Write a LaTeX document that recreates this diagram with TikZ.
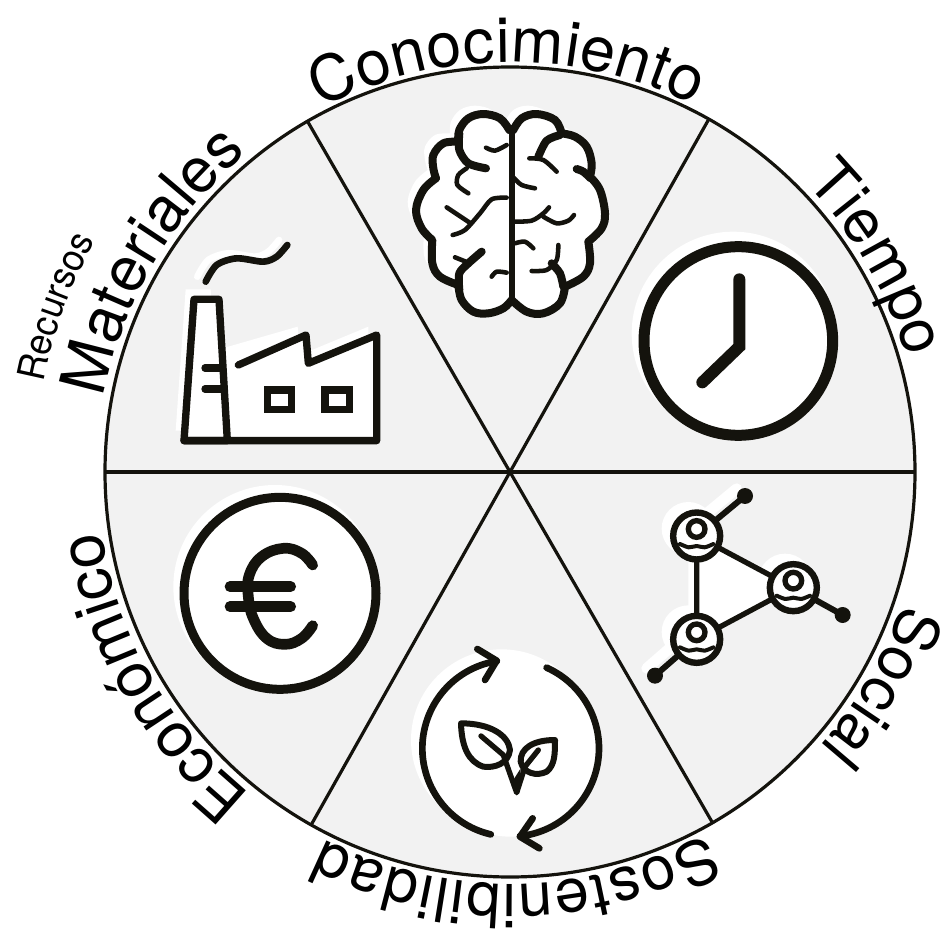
\documentclass[tikz,border=0pt]{standalone}
\usepackage{fontspec}
\setmainfont{TeX Gyre Heros}
\newfontfamily\narrowerfont[FakeStretch=0.95]{TeX Gyre Heros}
\usetikzlibrary{decorations.text}
\definecolor{ink}{HTML}{14130D}
\definecolor{panel}{HTML}{F2F2F2}
\tikzset{
  rimline/.style={draw=ink,line width=2.4pt,line cap=butt},
  inkline/.style={draw=ink,line cap=round,line join=round},
  thin ink/.style={inkline,line width=3.4pt},
  thick ink/.style={inkline,line width=6pt},
  back/.style={fill=white,draw=none},
}
% radius, start angle, end angle, font switch and size, alignment, text
\newcommand\arclabel[6]{%
  \path[decorate,decoration={text along path,text align={#5},
    text={|#4\selectfont|#6}}]
    plot[domain=0:1,samples=120] ({510+#1*cos(#2+(#3-#2)*\x)},{472-#1*sin(#2+(#3-#2)*\x)});}
\def\brainshape{plot[smooth,tension=.6] coordinates {(328,90)(300,55)(250,42)(205,55)(178,90)(175,125)}
  -- plot[smooth,tension=.6] coordinates {(175,125)(130,130)(100,165)(100,205)(108,235)}
  -- plot[smooth,tension=.6] coordinates {(108,235)(70,270)(48,330)(65,385)(97,420)}
  -- plot[smooth,tension=.6] coordinates {(97,420)(97,490)(120,530)(175,555)}
  -- plot[smooth,tension=.6] coordinates {(175,555)(185,600)(220,635)(265,640)(310,625)(335,600)}
  -- plot[smooth,tension=.6] coordinates {(335,600)(380,635)(430,640)(480,610)(495,560)}
  -- plot[smooth,tension=.6] coordinates {(495,560)(550,530)(570,490)(565,425)}
  -- plot[smooth,tension=.6] coordinates {(565,425)(605,385)(615,340)(600,270)(570,230)}
  -- plot[smooth,tension=.6] coordinates {(570,230)(575,190)(560,140)(525,110)(485,100)}
  -- plot[smooth,tension=.6] coordinates {(485,100)(465,60)(410,42)(365,55)(340,90)}
  -- cycle}
\def\chimney{(42,632)--(72,208)--(147,208)--(172,632)--cycle}
\def\plant{(172,632)--(165,385)--(408,315)--(415,400)--(620,315)--(620,632)--cycle}
\begin{document}
\begin{tikzpicture}[x=0.75pt,y=-0.75pt]
\useasboundingbox (0,0) rectangle (947,934);
% wheel
\fill[panel] (510,472) circle[radius=405*0.75pt];
\foreach \a in {0,60.6,120,180,240.6,300}
  \draw[rimline] (510,472) -- ({510+405*cos(\a)},{472-405*sin(\a)});
\draw[rimline] (510,472) circle[radius=405*0.75pt];
% labels
\arclabel{410}{117.5}{63.3}{\fontsize{47}{47}}{fit to path}{Conocimiento}
\arclabel{413}{44.4}{0}{\fontsize{46}{46}}{left}{Tiempo}
\arclabel{414}{-18.5}{-60}{\fontsize{46}{46}}{left}{Social}
\arclabel{412}{-61.5}{-117}{\fontsize{46}{46}}{fit to path}{Sostenibilidad}
\arclabel{413}{-128.8}{-179}{\fontsize{47}{47}}{left}{Económico}
\arclabel{413}{169.6}{110}{\fontsize{47}{47}}{left}{Materiales}
\arclabel{475}{169.2}{130}{\narrowerfont\fontsize{28.5}{28.5}}{left}{Recursos}
% brain
\begin{scope}[shift={(400,100)},x=0.25pt,y=-0.25pt]
  \fill[back,shift={(-25,-25)}] \brainshape;
  \fill[back] \brainshape;
  \draw[inkline,line width=6pt] \brainshape;
  \draw[inkline,line width=4.5pt,line cap=butt] (335,85)--(335,610);
  \draw[thick ink] plot[smooth] coordinates {(178,100)(178,150)(205,190)(258,205)};
  \draw[thick ink] plot[smooth] coordinates {(178,570)(178,520)(205,490)(245,455)};
  \draw[thick ink] plot[smooth] coordinates {(480,105)(440,122)(415,170)};
  \draw[thick ink] plot[smooth] coordinates {(530,207)(550,215)(572,235)};
  \draw[thick ink] plot[smooth] coordinates {(455,490)(480,520)(490,560)};
  \draw[thin ink] plot[smooth] coordinates {(258,143)(285,152)(320,135)};
  \draw[thin ink] plot[smooth] coordinates {(200,205)(175,225)(172,255)(205,280)};
  \draw[thin ink] (140,322)--(212,370);
  \draw[thin ink] plot[smooth] coordinates {(158,405)(195,390)(240,340)(275,298)(320,293)};
  \draw[thin ink] (165,472)--(205,488);
  \draw[thin ink] plot[smooth] coordinates {(275,530)(290,515)(320,518)};
  \draw[thin ink] plot[smooth] coordinates {(340,232)(365,255)(405,265)};
  \draw[thin ink] plot[smooth] coordinates {(388,175)(430,180)(470,215)};
  \draw[thin ink] plot[smooth] coordinates {(340,365)(395,362)(430,340)(447,322)};
  \draw[thin ink] plot[smooth] coordinates {(430,350)(470,370)(505,362)(522,345)};
  \draw[thin ink] plot[smooth] coordinates {(345,430)(375,425)(400,445)};
  \draw[thin ink] plot[smooth] coordinates {(475,435)(470,480)(440,510)(395,513)};
\end{scope}
% clock
\begin{scope}[shift={(630,230)},x=0.25pt,y=-0.25pt]
  \fill[back] (310,310) circle[radius=305*0.25pt];
  \fill[back] (325,333) circle[radius=283*0.25pt];
  \draw[inkline,line width=8.25pt] (325,333) circle[radius=283*0.25pt];
  \draw[inkline,line width=9pt,line join=miter] (328,148)--(328,350)--(217,457);
\end{scope}
% social network
\begin{scope}[shift={(630,470)},x=0.25pt,y=-0.25pt]
  \fill[back,shift={(-25,-22)}] (200,198) circle[radius=80*0.25pt];
  \fill[back,shift={(-25,-22)}] (200,508) circle[radius=80*0.25pt];
  \fill[back,shift={(-25,-22)}] (490,353) circle[radius=80*0.25pt];
  \fill[back,shift={(-25,-22)}] (200,198)--(490,353)--(200,508)--cycle;
  \fill[back] (200,198)--(490,353)--(200,508)--cycle;
  \draw[inkline,line width=4pt] (200,198)--(490,353)--(200,508)--cycle;
  \draw[line width=8pt,white,line cap=round,shift={(-25,-22)}] (200,198)--(345,78);
  \draw[line width=8pt,white,line cap=round,shift={(-25,-22)}] (200,508)--(75,617);
  \draw[inkline,line width=4.5pt] (200,198)--(345,78);
  \draw[inkline,line width=4.5pt] (490,353)--(638,435);
  \draw[inkline,line width=4.5pt] (200,508)--(75,617);
  \fill[ink] (345,78) circle[radius=24*0.25pt] (638,435) circle[radius=24*0.25pt] (75,617) circle[radius=24*0.25pt];
  \foreach \cx/\cy in {200/198,490/353,200/508}{
    \filldraw[fill=white,draw=ink,line width=4.8pt] (\cx,\cy) circle[radius=70.5*0.25pt];
    \draw[draw=ink,line width=4pt,fill=white] (\cx,\cy-21) circle[radius=25*0.25pt];
    \draw[inkline,line width=3pt] plot[smooth] coordinates {(\cx-50,\cy+24)(\cx-24,\cy+34)(\cx,\cy+30)(\cx+24,\cy+34)(\cx+50,\cy+24)};
  }
\end{scope}
% sustainability
\begin{scope}[shift={(400,640)},x=0.25pt,y=-0.25pt]
  \fill[back] (305,300) circle[radius=272*0.25pt];
  \fill[back] (332,325) circle[radius=265*0.25pt];
  \draw[inkline,line width=5pt] plot[domain=103:261,samples=60] ({332+265*cos(\x)},{325+265*sin(\x)});
  \draw[inkline,line width=5pt] plot[domain=-66:84,samples=60] ({332+265*cos(\x)},{325+265*sin(\x)});
  \draw[inkline,line width=5pt] (232,27)--(290,62)--(255,120);
  \draw[inkline,line width=5pt] (398,535)--(360,590)--(418,625);
  \draw[inkline,line width=4.5pt] (183,250) .. controls (270,250) and (325,285) .. (330,330)
     .. controls (325,370) and (285,385) .. (250,380) .. controls (205,365) and (185,320) .. cycle;
  \draw[inkline,line width=4.5pt] (465,300) .. controls (400,300) and (360,325) .. (362,365)
     .. controls (370,400) and (410,410) .. (440,395) .. controls (465,375) and (465,340) .. cycle;
  \draw[inkline,line width=4pt] (243,288)--(310,345)--(350,458)--(375,380)--(415,330);
  \fill[ink] (318,360)--(340,420)--(362,385)--(358,458)--(344,458)--cycle;
\end{scope}
% euro
\begin{scope}[shift={(170,485)},x=0.25pt,y=-0.25pt]
  \fill[back] (315,305) circle[radius=305*0.25pt];
  \fill[back] (330,325) circle[radius=288*0.25pt];
  \draw[inkline,line width=6.75pt] (330,325) circle[radius=288*0.25pt];
  \draw[inkline,line width=8pt] plot[smooth,tension=.7] coordinates {(428,240)(395,205)(340,190)(275,215)(238,270)(235,335)(250,400)(290,460)(345,478)(395,460)(428,422)};
  \draw[inkline,line width=8pt] (180,305)--(362,305);
  \draw[inkline,line width=8pt] (180,365)--(362,365);
\end{scope}
% factory
\begin{scope}[shift={(170,230)},x=0.25pt,y=-0.25pt]
  \fill[back,shift={(-25,-30)}] \chimney;
  \fill[back] \chimney;
  \fill[back,shift={(-25,-25)}] \plant;
  \fill[back] \plant;
  \draw[white,line width=5pt,line cap=round,shift={(-25,-15)}] plot[smooth] coordinates {(107,155)(140,105)(200,85)(280,95)(320,80)(352,45)};
  \draw[inkline,line width=5pt] plot[smooth] coordinates {(107,155)(140,105)(200,85)(280,95)(320,80)(352,45)};
  \draw[inkline,line width=5.5pt] \chimney;
  \draw[inkline,line width=5.5pt] (205,405)--(408,315)--(415,400)--(620,315)--(620,632)--(42,632);
  \draw[draw=ink,line width=5.5pt,fill=white] (292,480) rectangle (365,538);
  \draw[draw=ink,line width=5.5pt,fill=white] (465,480) rectangle (538,538);
  \draw[inkline,line width=5.5pt] (105,414)--(150,414);
  \draw[inkline,line width=5.5pt] (105,477)--(160,477);
\end{scope}
\end{tikzpicture}
\end{document}
